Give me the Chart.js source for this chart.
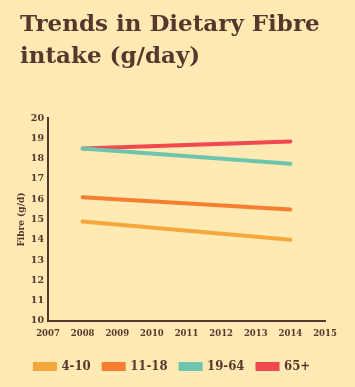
<!DOCTYPE html>
<html>
<head>
<meta charset="utf-8">
<script src="https://cdn.jsdelivr.net/npm/chart.js@4"></script>
<style>
html,body{margin:0;padding:0;background:#FEEAB2;}
#wrap{width:355px;height:387px;}
</style>
</head>
<body>
<div id="wrap"><canvas id="c" width="355" height="387"></canvas></div>
<script>
const years = [2008, 2014];
const seriesNames = ["4-10", "11-18", "19-64", "65+"];
const age4to10 = [14.9, 14.0];
const age11to18 = [16.1, 15.5];
const age19to64 = [18.5, 17.75];
const age65plus = [18.5, 18.85];
const seriesColors = ["#F4A73B", "#F67E31", "#6DC5AF", "#F2484F"];
const xTicks = [2007, 2008, 2009, 2010, 2011, 2012, 2013, 2014, 2015];
const yTicks = [10, 11, 12, 13, 14, 15, 16, 17, 18, 19, 20];

const brown = "#55372D";
const serif = "'DejaVu Serif', serif";
const condensed = "'DejaVu Serif Condensed', 'DejaVu Serif', serif";
const allValues = [age4to10, age11to18, age19to64, age65plus];

const datasets = allValues.map((vals, i) => ({
  label: seriesNames[i],
  data: years.map((y, j) => ({x: y, y: vals[j]})),
  borderColor: seriesColors[i],
  backgroundColor: seriesColors[i],
  borderWidth: 4,
  borderCapStyle: 'round',
  pointRadius: 0,
  tension: 0
}));

new Chart(document.getElementById('c'), {
  type: 'line',
  data: {datasets},
  options: {
    responsive: false,
    animation: false,
    layout: {padding: {left: 20, right: 30, top: 0, bottom: 4}},
    plugins: {
      title: {
        display: true,
        text: ["Trends in Dietary Fibre", "intake (g/day)"],
        align: 'start',
        color: brown,
        font: {family: serif, size: 23, weight: 'bold', lineHeight: 1.35},
        padding: {top: 10, bottom: 46}
      },
      legend: {
        position: 'bottom',
        labels: {
          color: brown,
          font: {family: condensed, size: 13, weight: 'bold'},
          boxWidth: 20,
          boxHeight: 5,
          padding: 13
        }
      },
      tooltip: {enabled: false}
    },
    scales: {
      x: {
        type: 'linear',
        min: 2007,
        max: 2015,
        afterBuildTicks: s => { s.ticks = xTicks.map(v => ({value: v})); },
        afterFit: s => { s.height = 26; },
        grid: {display: false, drawTicks: false},
        border: {display: true, color: brown, width: 2},
        ticks: {
          color: brown,
          font: {family: serif, size: 8.5, weight: 'bold'},
          padding: 8,
          maxRotation: 0,
          autoSkip: false,
          callback: v => String(v)
        }
      },
      y: {
        type: 'linear',
        min: 10,
        max: 20,
        afterBuildTicks: s => { s.ticks = yTicks.map(v => ({value: v})); },
        afterFit: s => { s.width = 28; },
        grid: {display: false, drawTicks: false},
        border: {display: true, color: brown, width: 2},
        title: {
          display: true,
          text: "Fibre (g/d)",
          color: brown,
          font: {family: serif, size: 9, weight: 'bold'},
          padding: {top: -4, bottom: 0}
        },
        ticks: {
          color: brown,
          font: {family: serif, size: 9.5, weight: 'bold'},
          padding: 4,
          autoSkip: false
        }
      }
    }
  }
});
</script>
</body>
</html>
